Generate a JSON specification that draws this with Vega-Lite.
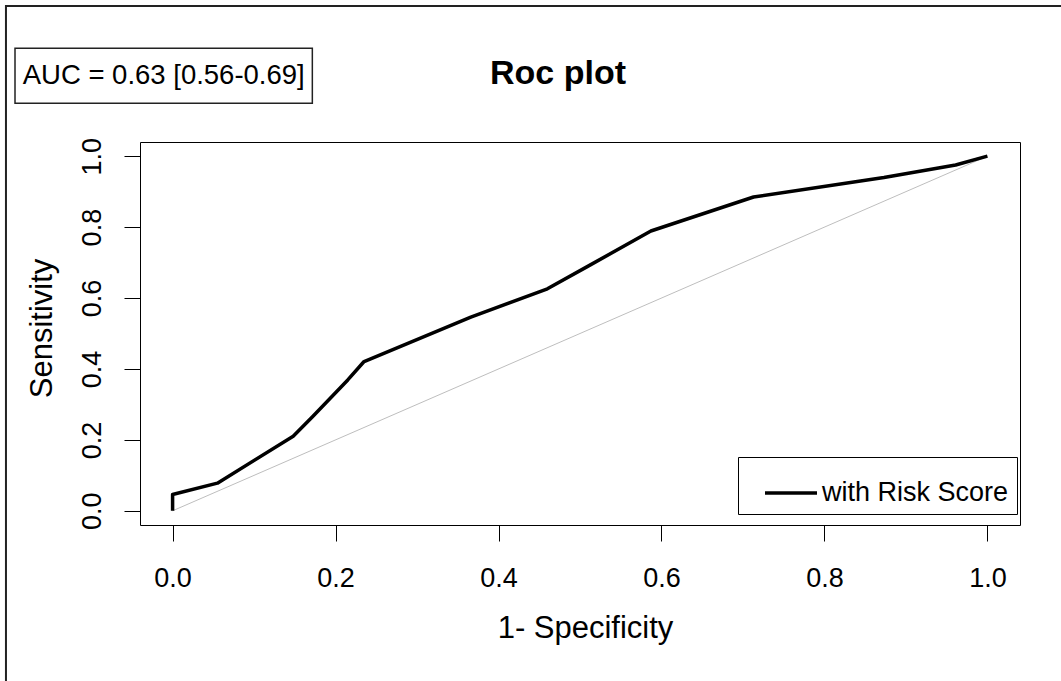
{
  "$schema": "https://vega.github.io/schema/vega-lite/v6.json",
  "autosize": "none",
  "width": 880,
  "height": 383,
  "padding": {"left": 140, "top": 142, "right": 41, "bottom": 156},
  "background": "white",
  "title": {
    "text": "Roc plot",
    "font": "Liberation Sans",
    "fontSize": 34,
    "fontWeight": "bold",
    "color": "black",
    "anchor": "middle",
    "frame": "group",
    "baseline": "alphabetic",
    "offset": 55,
    "dx": -22,
    "dy": 168
  },
  "config": {
    "view": {"stroke": "black", "strokeWidth": 1},
    "font": "Liberation Sans",
    "axis": {
      "domain": false,
      "grid": false,
      "tickColor": "black",
      "tickWidth": 1,
      "tickSize": 16,
      "labelFont": "Liberation Sans",
      "labelFontSize": 27,
      "labelColor": "black",
      "titleFont": "Liberation Sans",
      "titleFontSize": 31,
      "titleFontWeight": "normal",
      "titleColor": "black"
    }
  },
  "datasets": {
    "roc": [
      {"point": 1, "fpr": 0.0, "tpr": 0.0, "series": "with Risk Score"},
      {"point": 2, "fpr": 0.0, "tpr": 0.046, "series": "with Risk Score"},
      {"point": 3, "fpr": 0.055, "tpr": 0.078, "series": "with Risk Score"},
      {"point": 4, "fpr": 0.148, "tpr": 0.21, "series": "with Risk Score"},
      {"point": 5, "fpr": 0.172, "tpr": 0.266, "series": "with Risk Score"},
      {"point": 6, "fpr": 0.215, "tpr": 0.369, "series": "with Risk Score"},
      {"point": 7, "fpr": 0.235, "tpr": 0.421, "series": "with Risk Score"},
      {"point": 8, "fpr": 0.366, "tpr": 0.546, "series": "with Risk Score"},
      {"point": 9, "fpr": 0.46, "tpr": 0.626, "series": "with Risk Score"},
      {"point": 10, "fpr": 0.51, "tpr": 0.69, "series": "with Risk Score"},
      {"point": 11, "fpr": 0.587, "tpr": 0.789, "series": "with Risk Score"},
      {"point": 12, "fpr": 0.713, "tpr": 0.885, "series": "with Risk Score"},
      {"point": 13, "fpr": 0.873, "tpr": 0.94, "series": "with Risk Score"},
      {"point": 14, "fpr": 0.961, "tpr": 0.975, "series": "with Risk Score"},
      {"point": 15, "fpr": 1.0, "tpr": 1.0, "series": "with Risk Score"}
    ],
    "auc": [{"label": "AUC = 0.63 [0.56-0.69]"}]
  },
  "layer": [
    {
      "data": {"name": "auc"},
      "mark": {"type": "rect", "fill": null, "fillOpacity": 0, "stroke": "#222222", "strokeWidth": 2, "clip": false},
      "encoding": {
        "x": {"datum": -0.2045, "type": "quantitative", "scale": {"domain": [-0.04, 1.04], "nice": false, "zero": false}},
        "x2": {"datum": 1.2},
        "y": {"datum": 1.4235, "type": "quantitative", "scale": {"domain": [-0.04, 1.04], "nice": false, "zero": false}},
        "y2": {"datum": -0.7}
      }
    },
    {
      "data": {"name": "auc"},
      "mark": {"type": "rect", "fill": "white", "stroke": "#222222", "strokeWidth": 1.5, "clip": false},
      "encoding": {
        "x": {"datum": -0.1934, "type": "quantitative"},
        "x2": {"datum": 0.1715},
        "y": {"datum": 1.3042, "type": "quantitative"},
        "y2": {"datum": 1.1491}
      }
    },
    {
      "data": {"name": "auc"},
      "mark": {"type": "text", "font": "Liberation Sans", "fontSize": 27.5, "color": "black", "align": "center", "baseline": "middle", "clip": false},
      "encoding": {
        "x": {"datum": -0.0109, "type": "quantitative"},
        "y": {"datum": 1.2267, "type": "quantitative"},
        "text": {"field": "label", "type": "nominal"}
      }
    },
    {
      "data": {"name": "auc"},
      "mark": {"type": "rule", "color": "#bebebe", "strokeWidth": 1},
      "encoding": {
        "x": {"datum": 0, "type": "quantitative"},
        "y": {"datum": 0, "type": "quantitative"},
        "x2": {"datum": 1},
        "y2": {"datum": 1}
      }
    },
    {
      "data": {"name": "roc"},
      "mark": {"type": "line", "strokeWidth": 3.5, "strokeJoin": "round"},
      "encoding": {
        "x": {
          "field": "fpr",
          "type": "quantitative",
          "scale": {"domain": [-0.04, 1.04], "nice": false, "zero": false},
          "axis": {
            "title": "1- Specificity",
            "values": [0, 0.2, 0.4, 0.6, 0.8, 1],
            "format": ".1f",
            "labelPadding": 24,
            "labelBaseline": "top",
            "titleBaseline": "alphabetic",
            "titleX": 445,
            "titleY": 112,
            "titleAlign": "center"
          }
        },
        "y": {
          "field": "tpr",
          "type": "quantitative",
          "scale": {"domain": [-0.04, 1.04], "nice": false, "zero": false},
          "axis": {
            "title": "Sensitivity",
            "values": [0, 0.2, 0.4, 0.6, 0.8, 1],
            "format": ".1f",
            "labelAngle": 270,
            "labelAlign": "center",
            "labelBaseline": "alphabetic",
            "labelPadding": 24,
            "titleAngle": 270,
            "titleAlign": "center",
            "titleBaseline": "alphabetic",
            "titleX": -89,
            "titleY": 186
          }
        },
        "order": {"field": "point", "type": "quantitative"},
        "color": {
          "field": "series",
          "type": "nominal",
          "scale": {"range": ["black"]},
          "legend": {
            "title": null,
            "orient": "none",
            "legendX": 598,
            "legendY": 315,
            "strokeColor": "black",
            "fillColor": "white",
            "padding": 8,
            "symbolType": "stroke",
            "symbolSize": 2704,
            "symbolStrokeWidth": 3.5,
            "symbolOffset": 17,
            "labelOffset": 3,
            "labelFont": "Liberation Sans",
            "labelFontSize": 27,
            "labelColor": "black",
            "labelLimit": 400
          }
        }
      }
    }
  ]
}
